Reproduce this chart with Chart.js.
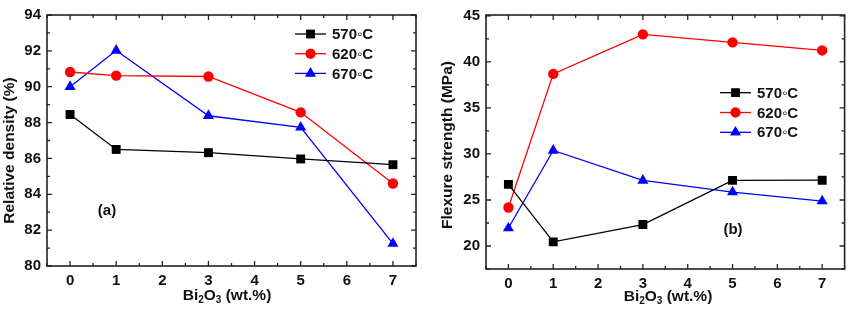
<!DOCTYPE html>
<html lang="en">
<head>
  <meta charset="UTF-8">
  <title>Relative density and flexure strength vs Bi2O3</title>
  <script src="https://cdn.jsdelivr.net/npm/chart.js"></script>
  <style>
    body { margin: 0; background: #ffffff; }
    .panel { position: absolute; top: 0; }
  </style>
</head>
<body>
  <canvas id="chartA" class="panel" style="left:0px" width="425" height="314"></canvas>
  <canvas id="chartB" class="panel" style="left:425px" width="426" height="314"></canvas>

<script>
  // x values (wt.% Bi2O3)
  const bi2o3 = [0, 1, 3, 5, 7];
  const tempLabels = ['570◦C', '620◦C', '670◦C'];

  // tick labels
  const xTicks = [0, 1, 2, 3, 4, 5, 6, 7];
  const densityTicks = [80, 82, 84, 86, 88, 90, 92, 94];
  const strengthTicks = [20, 25, 30, 35, 40, 45];

  // (a) relative density (%)
  const density570 = [88.45, 86.5, 86.32, 85.97, 85.65];
  const density620 = [90.82, 90.62, 90.57, 88.57, 84.6];
  const density670 = [90.0, 92.02, 88.38, 87.73, 81.25];

  // (b) flexure strength (MPa)
  const strength570 = [26.7, 20.45, 22.33, 27.13, 27.15];
  const strength620 = [24.18, 38.7, 43.0, 42.12, 41.25];
  const strength670 = [21.95, 30.38, 27.12, 25.86, 24.88];

  const FONT = "'Liberation Sans', Arial, sans-serif";
  const colors = ['#000000', '#ff0000', '#0000ff'];
  const styles = ['rect', 'circle', 'triangle'];
  const radii = [6.3, 5.2, 6.4];

  function makeSets(series) {
    return series.map((vals, i) => ({
      label: tempLabels[i],
      data: bi2o3.map((x, j) => ({ x: x, y: vals[j] })),
      borderColor: colors[i],
      backgroundColor: colors[i],
      borderWidth: 1.3,
      pointStyle: styles[i],
      pointRadius: radii[i],
      pointBorderWidth: 0,
      tension: 0
    }));
  }

  function drawMarker(ctx, style, r, x, y, color) {
    ctx.save();
    ctx.fillStyle = color;
    ctx.strokeStyle = color;
    Chart.helpers.drawPoint(ctx, { pointStyle: style, radius: r, rotation: 0, borderWidth: 0 }, x, y);
    ctx.fill();
    ctx.restore();
  }

  // frame, inward ticks, titles, legend and panel letter
  const panelPlugin = {
    id: 'panel',
    afterDraw(chart, args, o) {
      const ctx = chart.ctx;
      const a = chart.chartArea;
      const xs = chart.scales.x, ys = chart.scales.y;
      ctx.save();

      // ticks
      ctx.strokeStyle = '#222';
      ctx.lineWidth = 1.3;
      ctx.beginPath();
      for (let v = xs.min; v <= xs.max + 1e-6; v += o.xMinor) {
        const px = xs.getPixelForValue(v);
        const major = Math.abs(v - Math.round(v / o.xMajor) * o.xMajor) < 1e-6;
        const len = major ? 5 : 3;
        ctx.moveTo(px, a.bottom); ctx.lineTo(px, a.bottom - len);
        ctx.moveTo(px, a.top); ctx.lineTo(px, a.top + len);
      }
      for (let v = o.yStart; v <= ys.max + 1e-6; v += o.yMinor) {
        const py = ys.getPixelForValue(v);
        const major = Math.abs(v - Math.round(v / o.yMajor) * o.yMajor) < 1e-6;
        const len = major ? 5 : 3;
        ctx.moveTo(a.left, py); ctx.lineTo(a.left + len, py);
        ctx.moveTo(a.right, py); ctx.lineTo(a.right - len, py);
      }
      ctx.stroke();

      // frame
      ctx.lineWidth = 1.6;
      ctx.strokeRect(a.left, a.top, a.right - a.left, a.bottom - a.top);

      ctx.fillStyle = '#111';
      // y title
      ctx.save();
      ctx.translate(o.yTitleX, (a.top + a.bottom) / 2 + o.yTitleDy);
      ctx.rotate(-Math.PI / 2);
      ctx.font = 'bold 15.5px ' + FONT;
      ctx.textAlign = 'center';
      ctx.textBaseline = 'middle';
      ctx.fillText(o.yTitle, 0, 0);
      ctx.restore();

      // x title with subscripts: Bi2O3 (wt.%)
      const big = 'bold 15.5px ' + FONT, small = 'bold 10px ' + FONT;
      const parts = [['Bi', big, 0], ['2', small, 4], ['O', big, 0], ['3', small, 4], [' (wt.%)', big, 0]];
      let w = 0;
      parts.forEach(p => { ctx.font = p[1]; w += ctx.measureText(p[0]).width; });
      let tx = o.xTitleX - w / 2;
      ctx.textAlign = 'left';
      ctx.textBaseline = 'middle';
      parts.forEach(p => {
        ctx.font = p[1];
        ctx.fillText(p[0], tx, o.xTitleY + p[2]);
        tx += ctx.measureText(p[0]).width;
      });

      // legend
      ctx.font = 'bold 15px ' + FONT;
      chart.data.datasets.forEach((ds, i) => {
        const ly = o.legY + i * o.legGap;
        ctx.strokeStyle = ds.borderColor;
        ctx.lineWidth = 1.3;
        ctx.beginPath();
        ctx.moveTo(o.legX, ly); ctx.lineTo(o.legX + 31, ly);
        ctx.stroke();
        drawMarker(ctx, ds.pointStyle, ds.pointRadius * 0.95, o.legX + 15.5, ly, ds.backgroundColor);
        ctx.fillStyle = '#111';
        ctx.fillText(ds.label, o.legX + 37, ly + 1);
      });

      // panel letter
      ctx.textAlign = 'center';
      ctx.fillText(o.note, o.noteX, o.noteY);
      ctx.restore();
    }
  };

  function makeChart(id, series, box, yOpts, extra) {
    const canvas = document.getElementById(id);
    return new Chart(canvas, {
      type: 'line',
      data: { datasets: makeSets(series) },
      plugins: [panelPlugin],
      options: {
        responsive: false,
        animation: false,
        layout: { padding: { left: 0, top: box.top, right: canvas.width - box.right, bottom: 0 } },
        plugins: { legend: { display: false }, tooltip: { enabled: false }, panel: extra },
        scales: {
          x: {
            type: 'linear', min: -0.5, max: 7.5,
            grid: { display: false, drawTicks: false },
            border: { display: false },
            afterBuildTicks(s) { s.ticks = xTicks.map(v => ({ value: v })); },
            afterFit(s) { s.height = canvas.height - box.bottom; },
            ticks: {
              padding: 6, color: '#111',
              font: { family: FONT, size: 15, weight: 'bold' }
            }
          },
          y: {
            type: 'linear', min: yOpts.min, max: yOpts.max,
            grid: { display: false, drawTicks: false },
            border: { display: false },
            afterBuildTicks(s) { s.ticks = yOpts.ticks.map(v => ({ value: v })); },
            afterFit(s) { s.width = box.left; },
            ticks: {
              padding: 6, color: '#111',
              font: { family: FONT, size: 15, weight: 'bold' }
            }
          }
        }
      }
    });
  }

  makeChart('chartA', [density570, density620, density670],
    { left: 47, top: 3, right: 416, bottom: 266 },
    { min: 80, max: 94, ticks: densityTicks },
    { xMinor: 0.5, xMajor: 1, yStart: 80, yMinor: 1, yMajor: 2,
      yTitle: 'Relative density (%)', yTitleX: 10, yTitleDy: 10,
      xTitleX: 227, xTitleY: 296,
      legX: 295, legY: 34, legGap: 19.7,
      note: '(a)', noteX: 107, noteY: 211 });

  makeChart('chartB', [strength570, strength620, strength670],
    { left: 61, top: 7.5, right: 423, bottom: 269 },
    { min: 17.5, max: 45.1, ticks: strengthTicks },
    { xMinor: 0.5, xMajor: 1, yStart: 17.5, yMinor: 2.5, yMajor: 5,
      yTitle: 'Flexure strength (MPa)', yTitleX: 23, yTitleDy: 3,
      xTitleX: 243, xTitleY: 297,
      legX: 295, legY: 92.7, legGap: 19.8,
      note: '(b)', noteX: 308, noteY: 230 });
</script>
</body>
</html>
